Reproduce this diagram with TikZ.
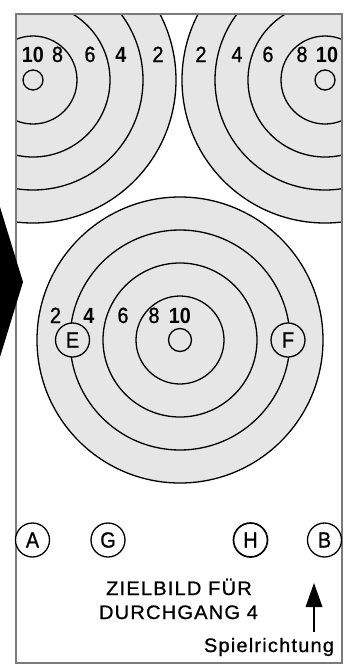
\documentclass[tikz,border=0pt]{standalone}
\usepackage{fontspec}
\setmainfont{Liberation Sans}
\newfontfamily\narrowf[FakeStretch=0.9,FakeBold=0.9]{Liberation Sans}
\newfontfamily\narrowbf[FakeStretch=0.9]{Liberation Sans Bold}
\newfontfamily\spacedf[FakeStretch=1.03,LetterSpace=6,FakeBold=0.9]{Liberation Sans}
\definecolor{tgray}{HTML}{E6E6E6}
\definecolor{fgray}{HTML}{7A7A7A}
\begin{document}
\begin{tikzpicture}[x=1pt,y=-1pt,
  ring/.style={draw=black,line width=1.3pt},
  lbl/.style={anchor=base,inner sep=0pt,font=\narrowf\fontsize{22}{22}\selectfont},
  blbl/.style={lbl,font=\narrowbf\fontsize{22}{22}\selectfont},
  poscirc/.style={circle,draw=black,line width=1.3pt,minimum size=34pt,inner sep=0pt,font=\narrowf\fontsize{22}{22}\selectfont},
  ttl/.style={anchor=base,inner sep=0pt,font=\spacedf\fontsize{19.5}{19.5}\selectfont}]
\useasboundingbox (0,0) rectangle (347,667);
\fill[white] (0,0) rectangle (347,667);
% targets clipped to the frame
\begin{scope}
  \clip (16,14) rectangle (342,663);
  \foreach \cx/\cy in {33/80,325/80,180/340}{
    \fill[tgray] (\cx,\cy) circle (143);
    \foreach \r in {44,77,110,143}{\draw[ring] (\cx,\cy) circle (\r);}
  }
  \draw[ring] (33,80) circle (10);
  \draw[ring] (325,80) circle (10);
  \draw[ring] (180,340) circle (11.5);
\end{scope}
% frame
\draw[fgray,line width=1.6pt] (16,14) rectangle (342,663);
% ring labels top left
\node[blbl] (tl10) at (33,62) {10};
\node[lbl] (tl8) at (57.5,62) {8};
\node[lbl] (tl6) at (90,62) {6};
\node[blbl] (tl4) at (121,62) {4};
\node[lbl] (tl2) at (158,62) {2};
% ring labels top right
\node[lbl] (tr2) at (201,62) {2};
\node[lbl] (tr4) at (237,62) {4};
\node[lbl] (tr6) at (268,62) {6};
\node[lbl] (tr8) at (302,62) {8};
\node[blbl] (tr10) at (327,62) {10};
% ring labels middle
\node[lbl] (m2) at (55.5,323) {2};
\node[blbl] (m4) at (89,323) {4};
\node[lbl] (m6) at (123,323) {6};
\node[lbl] (m8) at (154,323) {8};
\node[blbl] (m10) at (180,323) {10};
% positions E F
\node[poscirc,fill=tgray] (E) at (72.5,340) {E};
\node[poscirc,fill=tgray] (F) at (288,340) {F};
% positions A G H B
\node[poscirc,fill=white] (A) at (32.5,540) {A};
\node[poscirc,fill=white] (G) at (108,540) {G};
\node[poscirc,fill=white,line width=1.7pt] (H) at (250.5,540) {H};
\node[poscirc,fill=white] (B) at (324.5,540) {B};
% title
\node[ttl] (t1) at (179,595) {ZIELBILD FÜR};
\node[ttl] (t2) at (178.5,619) {DURCHGANG 4};
\node[ttl] (sp) at (269,652) {Spielrichtung};
% arrow
\coordinate (a0) at (314,632);
\coordinate (a1) at (314,607);
\coordinate (a2) at (314,583);
\draw[line width=1.6pt] (a0) -- (a1);
\fill (305.5,607) -- (a2) -- (322.5,607) -- cycle;
% black chevron at left
\fill[black] (0,207) -- (23,282) -- (0,357) -- cycle;
\end{tikzpicture}
\end{document}
